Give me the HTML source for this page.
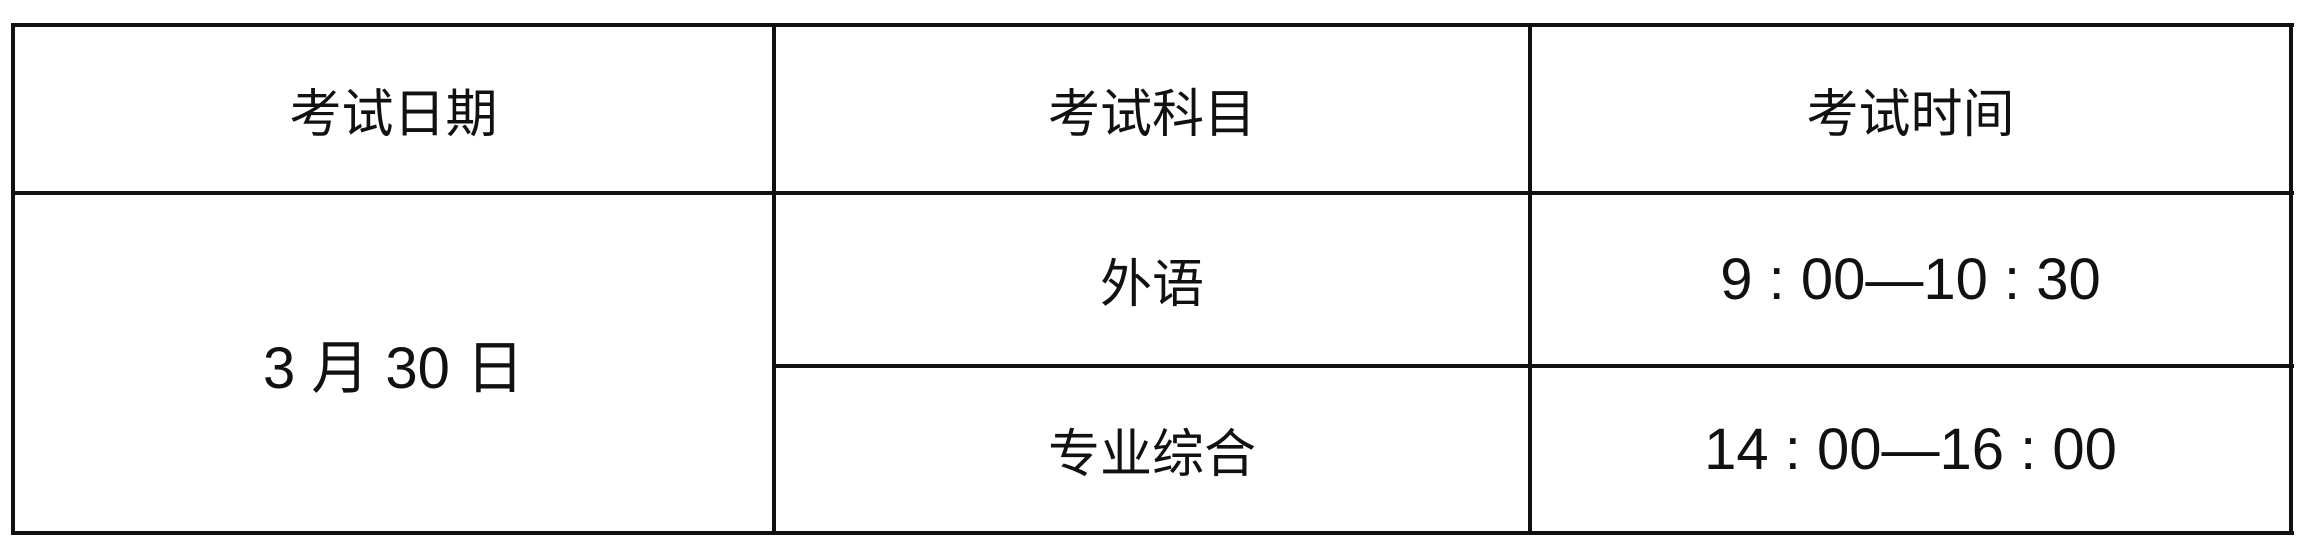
<!DOCTYPE html>
<html><head><meta charset="utf-8"><style>
html,body{margin:0;padding:0;background:#fff;}
body{width:2312px;height:552px;position:relative;overflow:hidden;font-family:"Liberation Sans","Noto Sans CJK SC",sans-serif;color:#111;}
.l{position:absolute;background:#111;}
.t{position:absolute;display:flex;align-items:center;justify-content:center;font-size:52px;white-space:pre;}
.n{font-size:58px;}
</style></head><body>
<div class="l" style="left:11px;top:23px;width:2283px;height:4px"></div>
<div class="l" style="left:11px;top:531px;width:2283px;height:4px"></div>
<div class="l" style="left:11px;top:23px;width:4px;height:512px"></div>
<div class="l" style="left:2289px;top:23px;width:4px;height:512px"></div>
<div class="l" style="left:772px;top:23px;width:4px;height:512px"></div>
<div class="l" style="left:1528px;top:23px;width:4px;height:512px"></div>
<div class="l" style="left:11px;top:191px;width:2283px;height:4px"></div>
<div class="l" style="left:772px;top:364px;width:1522px;height:4px"></div>

<div class="t" style="left:15px;top:27px;width:757px;height:164px">考试日期</div>
<div class="t" style="left:776px;top:27px;width:752px;height:164px">考试科目</div>
<div class="t" style="left:1532px;top:27px;width:757px;height:164px">考试时间</div>
<div class="t n" style="left:15px;top:195px;width:757px;height:336px">3 月 30 日</div>
<div class="t" style="left:776px;top:195px;width:752px;height:169px">外语</div>
<div class="t" style="left:776px;top:368px;width:752px;height:163px">专业综合</div>
<div class="t n" style="left:1532px;top:195px;width:757px;height:169px">9 : 00—10 : 30</div>
<div class="t n" style="left:1532px;top:368px;width:757px;height:163px">14 : 00—16 : 00</div>
</body></html>
